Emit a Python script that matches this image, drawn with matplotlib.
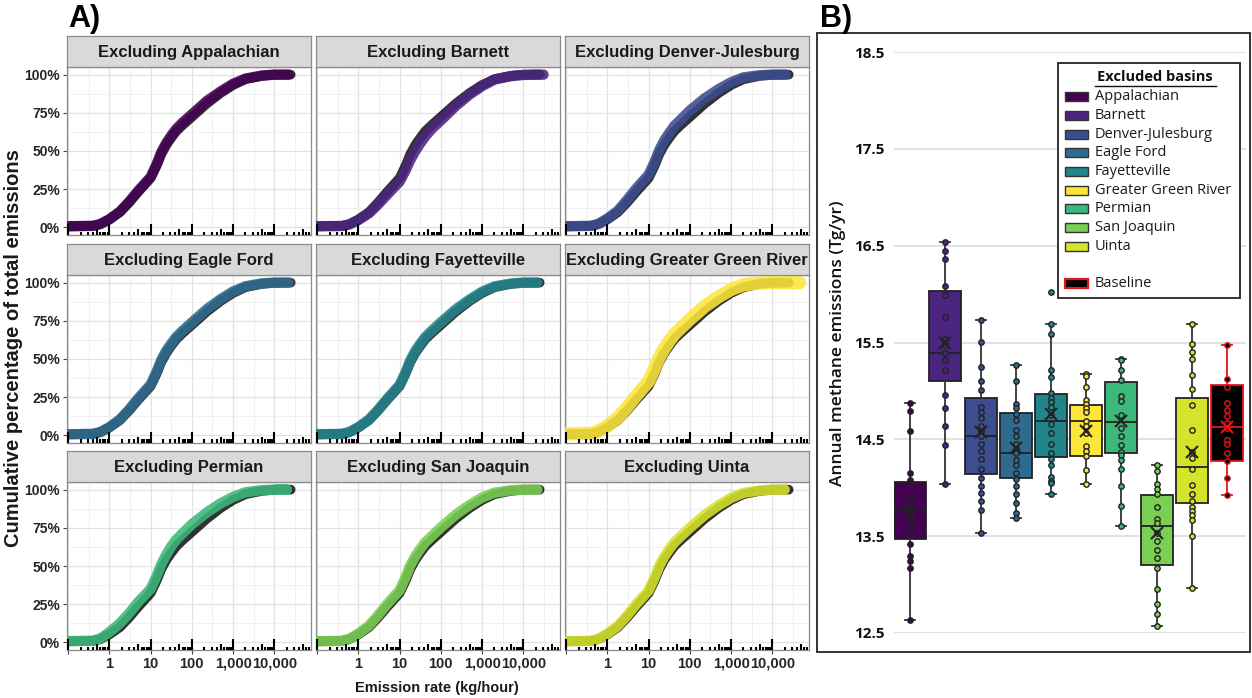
import numpy as np
import matplotlib
matplotlib.use('Agg')
import matplotlib.pyplot as plt
from matplotlib.patches import Rectangle
from matplotlib.lines import Line2D
from matplotlib.ticker import FixedLocator, NullFormatter

# ---------------- data ----------------
BASINS = ['Appalachian', 'Barnett', 'Denver-Julesburg', 'Eagle Ford', 'Fayetteville',
          'Greater Green River', 'Permian', 'San Joaquin', 'Uinta']
COLORS = ['#440154', '#4a2580', '#3c4d90', '#2f6b8e', '#23858c',
          '#fde63a', '#3bb87a', '#7bcf52', '#d5e32a']

# panel A: emission rate (kg/hour) vs cumulative % of total emissions
RATE = [0.1, 0.4, 0.6, 1, 1.8, 3, 5, 10, 14, 18, 24, 32, 42, 60, 100, 230, 500, 1000, 2000, 5000, 10000, 20000]
BASELINE_PCT = [0.7, 1.0, 2.1, 5.2, 10.0, 16.3, 23.3, 32.3, 40.5, 47.8, 54.0, 58.8, 63.0, 67.0, 72.3, 81.0, 88.0, 93.2, 97.0, 99.2, 99.9, 100]
BASELINE_END = 25000
PCT_APP = [0.7, 1.0, 2.2, 5.4, 10.4, 16.8, 24.0, 33.0, 41.5, 49.0, 55.3, 60.3, 64.5, 68.7, 74.0, 82.7, 89.0, 94.0, 97.4, 99.4, 100, 100]
PCT_BAR = [0.7, 0.9, 1.9, 4.8, 9.2, 15.0, 21.5, 30.0, 37.5, 44.0, 50.0, 55.2, 59.6, 64.5, 70.0, 79.5, 87.0, 92.5, 96.8, 99.0, 99.8, 100]
PCT_DJ = [0.7, 1.0, 2.3, 5.8, 11.0, 18.0, 25.5, 34.5, 43.0, 50.5, 57.0, 62.0, 66.5, 70.5, 76.5, 84.5, 90.5, 95.0, 98.2, 99.6, 100, 100]
PCT_EF = [0.7, 1.0, 2.2, 5.4, 10.5, 17.0, 24.3, 33.3, 41.8, 49.2, 55.5, 60.3, 64.5, 68.6, 74.0, 82.6, 89.2, 94.2, 97.6, 99.5, 100, 100]
PCT_FAY = [0.7, 1.0, 2.2, 5.4, 10.4, 16.8, 24.0, 33.0, 41.5, 49.0, 55.3, 60.2, 64.4, 68.5, 74.0, 82.5, 89.0, 94.0, 97.5, 99.4, 100, 100]
PCT_GGR = [0.9, 1.3, 2.7, 6.2, 11.6, 18.5, 26.0, 35.5, 44.0, 51.0, 57.0, 62.0, 66.2, 70.3, 76.0, 84.5, 90.8, 95.5, 98.6, 99.8, 100, 100]
PCT_PER = [0.8, 1.1, 2.5, 6.7, 12.5, 19.0, 26.5, 35.0, 43.5, 51.0, 57.5, 63.0, 67.3, 71.5, 77.3, 85.0, 91.0, 95.2, 98.3, 99.6, 100, 100]
PCT_SJ = [0.7, 1.0, 2.3, 5.8, 11.0, 17.8, 25.2, 34.2, 42.8, 50.2, 56.4, 61.4, 65.6, 69.6, 75.2, 83.6, 90.0, 94.8, 98.0, 99.6, 100, 100]
PCT_UIN = [0.7, 1.0, 2.3, 5.7, 10.9, 17.6, 25.0, 34.0, 42.5, 50.0, 56.2, 61.2, 65.4, 69.4, 75.0, 83.4, 89.8, 94.6, 97.9, 99.5, 100, 100]
EXCL_PCT = [PCT_APP, PCT_BAR, PCT_DJ, PCT_EF, PCT_FAY, PCT_GGR, PCT_PER, PCT_SJ, PCT_UIN]
EXCL_END = [22000, 31000, 21000, 22000, 22000, 46000, 12000, 22000, 20000]

# panel B: annual methane emissions (Tg/yr)
BOX_NAMES = BASINS + ['Baseline']
Q1 = [13.47, 15.10, 14.14, 14.10, 14.32, 14.33, 14.36, 13.20, 13.84, 14.28]
MED = [13.76, 15.39, 14.53, 14.36, 14.69, 14.69, 14.68, 13.61, 14.21, 14.63]
Q3 = [14.06, 16.03, 14.93, 14.77, 14.97, 14.85, 15.09, 13.92, 14.93, 15.06]
WLO = [12.63, 14.04, 13.53, 13.69, 13.94, 14.04, 13.61, 12.57, 12.96, 13.93]
WHI = [14.88, 16.54, 15.73, 15.27, 15.69, 15.17, 15.33, 14.24, 15.69, 15.47]
MEAN = [13.76, 15.49, 14.58, 14.41, 14.76, 14.59, 14.69, 13.53, 14.37, 14.63]

PTS_APP = [14.88, 14.79, 14.59, 14.15, 14.08, 14.05, 13.90, 13.85, 13.80, 13.76, 13.71, 13.67, 13.62, 13.55, 13.42, 13.30, 13.24, 13.17, 12.63]
PTS_BAR = [16.54, 16.45, 16.36, 16.08, 15.99, 15.76, 15.54, 15.50, 15.47, 15.39, 15.32, 15.22, 14.96, 14.82, 14.64, 14.44, 14.04]
PTS_DJ = [15.73, 15.51, 15.25, 15.10, 15.01, 14.83, 14.78, 14.72, 14.64, 14.59, 14.53, 14.45, 14.38, 14.30, 14.19, 14.10, 14.02, 13.95, 13.86, 13.77, 13.53]
PTS_EF = [15.27, 15.10, 14.87, 14.82, 14.76, 14.70, 14.60, 14.53, 14.45, 14.40, 14.36, 14.29, 14.23, 14.15, 14.09, 14.02, 13.94, 13.84, 13.74, 13.69]
PTS_FAY = [16.02, 15.69, 15.59, 15.22, 15.14, 14.98, 14.93, 14.89, 14.83, 14.75, 14.66, 14.57, 14.45, 14.36, 14.30, 14.23, 14.11, 14.07, 14.05, 13.94]
PTS_GGR = [15.17, 15.15, 15.04, 14.91, 14.87, 14.82, 14.78, 14.69, 14.64, 14.57, 14.43, 14.38, 14.33, 14.18, 14.04]
PTS_PER = [15.33, 15.32, 15.22, 15.11, 14.95, 14.90, 14.75, 14.62, 14.53, 14.44, 14.37, 14.34, 14.29, 14.19, 14.02, 13.81, 13.61]
PTS_SJ = [14.24, 14.17, 14.04, 13.99, 13.94, 13.80, 13.68, 13.64, 13.53, 13.45, 13.36, 13.27, 13.17, 12.95, 12.80, 12.70, 12.57]
PTS_UIN = [15.69, 15.48, 15.40, 15.33, 15.16, 15.02, 14.85, 14.60, 14.37, 14.31, 14.19, 14.03, 13.94, 13.86, 13.80, 13.76, 13.72, 13.67, 13.50, 12.96]
PTS_BASE = [15.47, 15.12, 15.04, 14.88, 14.80, 14.74, 14.67, 14.62, 14.49, 14.45, 14.36, 14.28, 14.10, 13.93]
POINTS = [PTS_APP, PTS_BAR, PTS_DJ, PTS_EF, PTS_FAY, PTS_GGR, PTS_PER, PTS_SJ, PTS_UIN, PTS_BASE]

PCT_TICKS = [0, 25, 50, 75, 100]
RATE_TICKS = [1, 10, 100, 1000, 10000]
RATE_LABELS = ['1', '10', '100', '1,000', '10,000']
EMIS_TICKS = [12.5, 13.5, 14.5, 15.5, 16.5, 17.5, 18.5]

# ---------------- layout helpers ----------------
W, H = 1252, 698
fig = plt.figure(figsize=(W / 100, H / 100), dpi=100)

def px_box(x0, y0, x1, y1):
    return [x0 / W, 1 - y1 / H, (x1 - x0) / W, (y1 - y0) / H]

ARIAL = 'Liberation Sans'
SEGOE = 'Open Sans'

# ---------------- panel A ----------------
COL_X = [67, 316, 565]
ROW_Y = [67, 275, 482]
PW, PH, SH = 244, 168, 31
XMIN, XMAX = 0.093, 78000
D_PER_PX = 110 / PH   # y data units per pixel

for i, basin in enumerate(BASINS):
    r, c = divmod(i, 3)
    x0, top = COL_X[c], ROW_Y[r]
    ax = fig.add_axes(px_box(x0, top, x0 + PW, top + PH))
    ax.set_xscale('log')
    ax.set_xlim(XMIN, XMAX)
    ax.set_ylim(-5, 105)

    ax.xaxis.set_major_locator(FixedLocator([0.1] + RATE_TICKS))
    ax.xaxis.set_minor_locator(FixedLocator([10 ** (k + 0.5) for k in range(-1, 5)]))
    ax.xaxis.set_minor_formatter(NullFormatter())
    ax.set_yticks(PCT_TICKS)
    ax.set_yticks([12.5, 37.5, 62.5, 87.5], minor=True)
    ax.grid(which='major', color='#e2e2e2', lw=0.9)
    ax.grid(which='minor', color='#f0f0f0', lw=0.7)
    ax.set_axisbelow(True)
    ax.tick_params(which='minor', length=0)
    ax.tick_params(which='major', length=3, width=0.8, color='#444', pad=2)

    if c == 0:
        ax.set_yticklabels([f'{v}%' for v in PCT_TICKS], fontfamily=ARIAL,
                           fontweight='bold', fontsize=10, color='#262626')
    else:
        ax.set_yticklabels([])
        ax.tick_params(axis='y', length=0)
    if r == 2:
        ax.set_xticklabels([''] + RATE_LABELS, fontfamily=ARIAL,
                           fontweight='bold', fontsize=10.5, color='#262626')
    else:
        ax.set_xticklabels([])
        ax.tick_params(axis='x', length=0)
    for s in ax.spines.values():
        s.set_color('#8a8a8a')
        s.set_linewidth(0.9)

    # baseline runs (black) and runs without the basin (colour)
    ax.plot(RATE + [BASELINE_END], BASELINE_PCT + [100], color='black', lw=7,
            alpha=0.8, solid_capstyle='round', solid_joinstyle='round', zorder=2)
    lw = 9.5 if basin == 'Greater Green River' else 7.5
    ax.plot(RATE + [EXCL_END[i]], EXCL_PCT[i] + [100], color=COLORS[i], lw=lw,
            alpha=0.88, solid_capstyle='round', solid_joinstyle='round', zorder=3)

    # log ticks along the bottom of each panel
    for d in range(-1, 5):
        for k in range(1, 10):
            v = k * 10 ** d
            if v < XMIN or v > XMAX:
                continue
            ln_px = 11 if k == 1 else (6 if k == 5 else 3.5)
            ax.plot([v, v], [-5, -5 + ln_px * D_PER_PX], color='black', lw=1.5, zorder=4,
                    solid_capstyle='butt', clip_on=False)

    sax = fig.add_axes(px_box(x0, top - SH, x0 + PW, top))
    sax.set_facecolor('#d9d9d9')
    sax.set_xticks([])
    sax.set_yticks([])
    for s in sax.spines.values():
        s.set_color('#8a8a8a')
        s.set_linewidth(0.9)
    sax.text(0.5, 0.47, f'Excluding {basin}', ha='center', va='center',
             fontfamily=ARIAL, fontweight='bold', fontsize=12, color='#1a1a1a')

fig.text(14 / W, 1 - 348 / H, 'Cumulative percentage of total emissions', rotation=90,
         ha='center', va='center', fontfamily=ARIAL, fontweight='bold', fontsize=14.5, color='#1a1a1a')
fig.text(437 / W, 1 - 688 / H, 'Emission rate (kg/hour)', ha='center', va='center',
         fontfamily=ARIAL, fontweight='bold', fontsize=10.5, color='#1a1a1a')
fig.text(68 / W, 1 - 19 / H, 'A)', ha='left', va='center', fontfamily=ARIAL,
         fontweight='bold', fontsize=22)

# ---------------- panel B ----------------
fig.add_artist(Rectangle((817 / W, 1 - 652 / H), (1250 - 817) / W, (652 - 33) / H,
                         transform=fig.transFigure, fill=False, ec='#333333', lw=1.4))
fig.text(820 / W, 1 - 19 / H, 'B)', ha='left', va='center', fontfamily=ARIAL,
         fontweight='bold', fontsize=22)

axb = fig.add_axes(px_box(894, 52, 1246, 633))
pos = np.arange(1, len(BOX_NAMES) + 1)
stats = [dict(q1=Q1[j], med=MED[j], q3=Q3[j], whislo=WLO[j], whishi=WHI[j],
              mean=MEAN[j], fliers=[]) for j in range(len(BOX_NAMES))]
bp = axb.bxp(stats, positions=pos, widths=0.91, patch_artist=True, showmeans=True,
             capwidths=0.28,
             boxprops=dict(edgecolor='#222222', lw=1.3),
             medianprops=dict(color='#222222', lw=1.3),
             whiskerprops=dict(color='#333333', lw=1.3),
             capprops=dict(color='#333333', lw=1.3),
             meanprops=dict(marker='x', markeredgecolor='#222222', markersize=8, mew=1.5))
box_colors = COLORS + ['black']
for j, name in enumerate(BOX_NAMES):
    bp['boxes'][j].set_facecolor(box_colors[j])
    edge = '#222222'
    if name == 'Baseline':
        edge = '#e8141b'
        bp['boxes'][j].set_edgecolor(edge)
        bp['medians'][j].set_color(edge)
        bp['means'][j].set_markeredgecolor(edge)
        for k in (2 * j, 2 * j + 1):
            bp['whiskers'][k].set_color(edge)
            bp['caps'][k].set_color(edge)
    bp['means'][j].set_zorder(5)
    axb.scatter(np.full(len(POINTS[j]), pos[j]), POINTS[j], s=15,
                facecolors=box_colors[j], edgecolors=edge, lw=1.0, zorder=4)

axb.set_xlim(0.54, 10.54)
axb.set_ylim(12.5, 18.5)
axb.set_xticks([])
axb.set_yticks(EMIS_TICKS)
axb.set_yticklabels([f'{v:.1f}' for v in EMIS_TICKS], fontfamily=SEGOE,
                    fontweight='bold', fontsize=11, color='#111')
axb.tick_params(axis='y', length=0, pad=7)
axb.yaxis.grid(True, color='#dedede', lw=1.3)
axb.set_axisbelow(True)
for s in axb.spines.values():
    s.set_visible(False)

fig.text(838 / W, 1 - 343 / H, 'Annual methane emissions (Tg/yr)', rotation=90,
         ha='center', va='center', fontfamily=SEGOE, fontweight='semibold', fontsize=12.5, color='#111')

# legend, drawn by hand in pixel positions
fig.add_artist(Rectangle((1058 / W, 1 - 298 / H), (1240 - 1058) / W, (298 - 63) / H,
                         transform=fig.transFigure, fc='white', ec='#333333', lw=1.4, zorder=10))
fig.text(1155 / W, 1 - 77 / H, 'Excluded basins', ha='center', va='center', fontfamily=SEGOE,
         fontweight='bold', fontsize=10.5, color='#111', zorder=11)
fig.add_artist(Line2D([1095 / W, 1216 / W], [1 - 86 / H, 1 - 86 / H], color='#111', lw=1.0,
                      transform=fig.transFigure, zorder=11))
ys = [96.7 + 18.7 * j for j in range(len(BASINS))] + [96.7 + 18.7 * (len(BASINS) + 1)]
for j, name in enumerate(BOX_NAMES):
    y = ys[j]
    ec = '#e8141b' if name == 'Baseline' else '#333333'
    fig.add_artist(Rectangle((1065 / W, 1 - (y + 4.5) / H), 23 / W, 9 / H,
                             transform=fig.transFigure, fc=box_colors[j], ec=ec,
                             lw=1.6 if name == 'Baseline' else 1.0, zorder=11))
    fig.text(1095 / W, 1 - y / H, name, ha='left', va='center', fontfamily=SEGOE,
             fontsize=10.5, color='#1a1a1a', zorder=11)

fig.savefig('out.png', dpi=100, facecolor='white')
